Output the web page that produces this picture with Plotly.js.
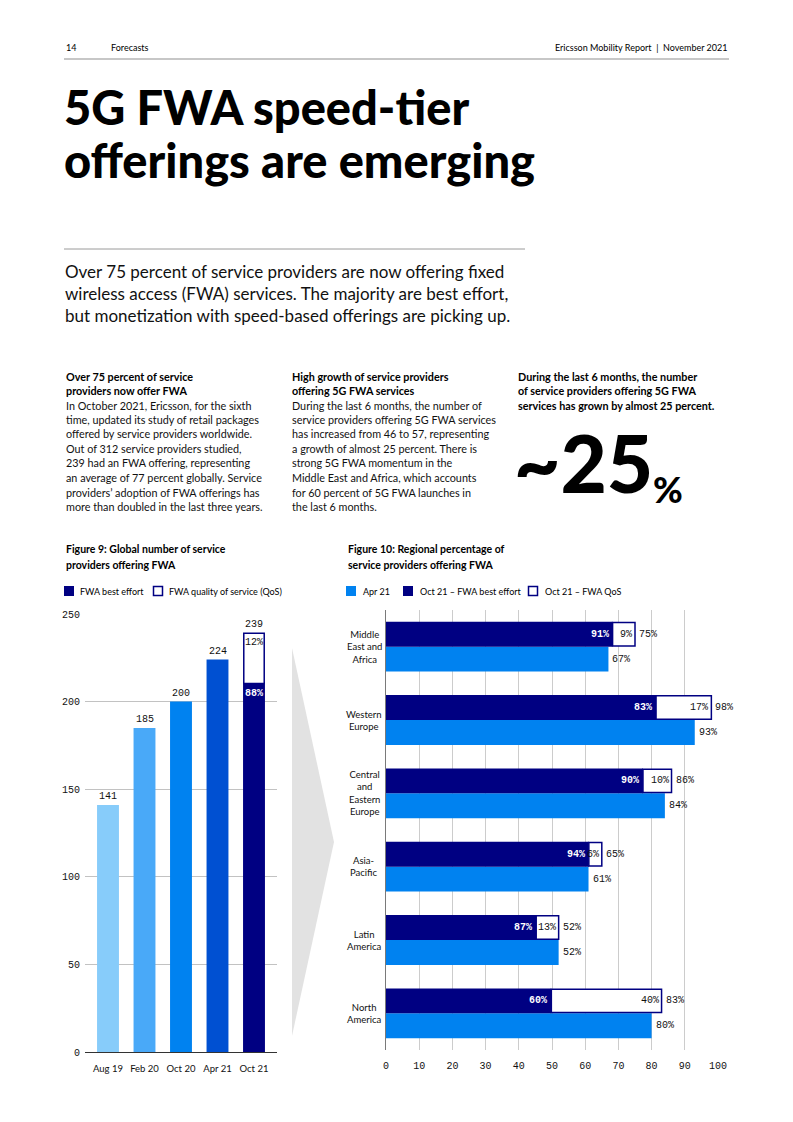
<!DOCTYPE html>
<html>
<head>
<meta charset="utf-8">
<script src="https://cdn.plot.ly/plotly-3.0.1.min.js"></script>
<style>
html,body{margin:0;padding:0;background:#fff;}
#page{width:793px;height:1122px;}
</style>
</head>
<body>
<div id="page"></div>
<script>
// ---------- DATA ----------
const fig9Periods = ['Aug 19','Feb 20','Oct 20','Apr 21','Oct 21'];
const fig9Totals = [141, 185, 200, 224, 239];
const fig9Oct21BestEffortShare = 88;
const fig9Oct21QosShare = 12;
const fig9Ticks = [0, 50, 100, 150, 200, 250];

const fig10Regions = ['Middle East and Africa','Western Europe','Central and Eastern Europe','Asia-Pacific','Latin America','North America'];
const fig10RegionLabels = ['Middle<br>East and<br>Africa','Western<br>Europe','Central<br>and<br>Eastern<br>Europe','Asia-<br>Pacific','Latin<br>America','North<br>America'];
const fig10Apr21 = [67, 93, 84, 61, 52, 80];
const fig10Oct21Total = [75, 98, 86, 65, 52, 83];
const fig10Oct21BestEffortShare = [91, 83, 90, 94, 87, 60];
const fig10Oct21QosShare = [9, 17, 10, 6, 13, 40];
const fig10Ticks = [0,10,20,30,40,50,60,70,80,90,100];

const col1Head = ['Over 75 percent of service','providers now offer FWA'];
const col1Body = ['In October 2021, Ericsson, for the sixth','time, updated its study of retail packages','offered by service providers worldwide.','Out of 312 service providers studied,','239 had an FWA offering, representing','an average of 77 percent globally. Service','providers\u2019 adoption of FWA offerings has','more than doubled in the last three years.'];
const col2Head = ['High growth of service providers','offering 5G FWA services'];
const col2Body = ['During the last 6 months, the number of','service providers offering 5G FWA services','has increased from 46 to 57, representing','a growth of almost 25 percent. There is','strong 5G FWA momentum in the','Middle East and Africa, which accounts','for 60 percent of 5G FWA launches in','the last 6 months.'];
const col3Head = ['During the last 6 months, the number','of service providers offering 5G FWA','services has grown by almost 25 percent.'];
const subtitleLines = ['Over 75 percent of service providers are now offering fixed','wireless access (FWA) services. The majority are best effort,','but monetization with speed-based offerings are picking up.'];
const titleLines = ['5G FWA speed-tier','offerings are emerging'];

// ---------- STYLE ----------
const W = 793, H = 1122;
const X = px => px / W;
const Y = py => 1 - py / H;
const SANS = 'Lato, "Noto Sans", sans-serif';
const MONO = '"Liberation Mono", "DejaVu Sans Mono", monospace';
const NAVY = '#000082';
const BLUE = '#0082f0';
const fig9Colors = ['#87ccfa','#49a9f8','#0082f0','#0050d2', NAVY];

const ann = [];
function txt(text, xpx, ypx, o) {
  o = o || {};
  ann.push({
    text: text, xref: 'paper', yref: 'paper', x: X(xpx), y: Y(ypx),
    xanchor: o.xanchor || 'left', yanchor: o.yanchor || 'middle',
    align: o.align || 'left', showarrow: false,
    font: {family: o.family || SANS, size: o.size || 10, color: o.color || '#000', weight: o.weight || 400}
  });
}

// header
txt('14', 64, 48, {size: 9});
txt('Forecasts', 109, 48, {size: 9});
txt('Ericsson Mobility Report  |  November 2021', 729, 48, {size: 9, xanchor: 'right'});
// title
txt(titleLines[0], 62, 107, {size: 47, weight: 900});
txt(titleLines[1], 62, 160, {size: 47, weight: 900});
// subtitle
subtitleLines.forEach((l, i) => txt(l, 63, 271 + 22 * i, {size: 17, weight: 400, color: '#111'}));
// columns
const cols = [[64, col1Head, col1Body], [290, col2Head, col2Body], [516, col3Head, []]];
cols.forEach(([x0, head, body]) => {
  head.forEach((l, i) => txt(l, x0, 376 + 14.5 * i, {size: 10.8, weight: 700}));
  body.forEach((l, i) => txt(l, x0, 376 + 14.5 * (head.length + i), {size: 10.8, color: '#111'}));
});
txt('~25', 512, 462, {size: 80, weight: 900});
txt('%', 651, 489, {size: 36, weight: 900});

// figure titles
txt('Figure 9: Global number of service', 64, 549, {size: 10.5, weight: 700});
txt('providers offering FWA', 64, 565, {size: 10.5, weight: 700});
txt('Figure 10: Regional percentage of', 346, 549, {size: 10.5, weight: 700});
txt('service providers offering FWA', 346, 565, {size: 10.5, weight: 700});
// legends
txt('FWA best effort', 78, 591, {size: 9});
txt('FWA quality of service (QoS)', 167, 591, {size: 9});
txt('Apr 21', 361, 591, {size: 9});
txt('Oct 21 \u2013 FWA best effort', 418, 591, {size: 9});
txt('Oct 21 \u2013 FWA QoS', 543, 591, {size: 9});

const shapes = [];
function rectPx(x0, y0, x1, y1, fill, line) {
  shapes.push({type: 'rect', xref: 'paper', yref: 'paper', x0: X(x0), x1: X(x1), y0: Y(y1), y1: Y(y0),
    fillcolor: fill, line: {color: line || fill, width: line ? 1.5 : 0}});
}
function linePx(x0, y0, x1, y1, color, width) {
  shapes.push({type: 'line', xref: 'paper', yref: 'paper', x0: X(x0), x1: X(x1), y0: Y(y0), y1: Y(y1),
    line: {color: color, width: width}});
}
linePx(64, 59, 729, 59, '#b5b5b5', 1.5);
linePx(64, 249, 525, 249, '#9a9a9a', 1);
rectPx(64, 586, 74, 596, NAVY);
rectPx(153.5, 586.5, 162.5, 595.5, '#fff', NAVY);
rectPx(346, 586, 356, 596, BLUE);
rectPx(403, 586, 413, 596, NAVY);
rectPx(528.5, 586.5, 537.5, 595.5, '#fff', NAVY);
// arrow
shapes.push({type: 'path', xref: 'paper', yref: 'paper', layer: 'below',
  path: `M ${X(292)},${Y(648)} L ${X(334)},${Y(842)} L ${X(292)},${Y(1036)} Z`,
  fillcolor: '#e2e2e2', line: {width: 0}});

// ---------- FIGURE 9 ----------
const last = fig9Totals.length - 1;
const fig9BestEffort = fig9Totals.map((v, i) => i === last ? v * fig9Oct21BestEffortShare / 100 : v);
const fig9Qos = fig9Totals[last] * fig9Oct21QosShare / 100;

const traces = [];
traces.push({type: 'bar', x: fig9Periods, y: fig9BestEffort, xaxis: 'x', yaxis: 'y', width: 0.6,
  marker: {color: fig9Colors, line: {width: 0}}, hoverinfo: 'skip', showlegend: false});
traces.push({type: 'bar', x: [fig9Periods[last]], y: [fig9Qos], base: [fig9BestEffort[last]], xaxis: 'x', yaxis: 'y', width: 0.56,
  marker: {color: '#fff', line: {color: NAVY, width: 1.5}}, hoverinfo: 'skip', showlegend: false});

fig9Periods.forEach((p, i) => {
  ann.push({text: String(fig9Totals[i]), xref: 'x', yref: 'y', x: p, y: fig9Totals[i], yanchor: 'bottom', yshift: 1,
    showarrow: false, font: {family: MONO, size: 10, color: '#111'}});
});
ann.push({text: fig9Oct21QosShare + '%', xref: 'x', yref: 'y', x: fig9Periods[last], y: fig9Totals[last], yanchor: 'top', yshift: -2,
  showarrow: false, font: {family: MONO, size: 10, color: '#111'}});
ann.push({text: fig9Oct21BestEffortShare + '%', xref: 'x', yref: 'y', x: fig9Periods[last], y: fig9BestEffort[last], yanchor: 'top', yshift: -2,
  showarrow: false, font: {family: MONO, size: 10, color: '#fff', weight: 700}});

// ---------- FIGURE 10 ----------
const fig10Be = fig10Oct21Total.map((t, i) => t * fig10Oct21BestEffortShare[i] / 100);
const fig10Qos = fig10Oct21Total.map((t, i) => t * fig10Oct21QosShare[i] / 100);
traces.push({type: 'bar', orientation: 'h', y: fig10Regions, x: fig10Apr21, xaxis: 'x2', yaxis: 'y2',
  width: 0.34, offset: 0, marker: {color: BLUE, line: {width: 0}}, hoverinfo: 'skip', showlegend: false});
traces.push({type: 'bar', orientation: 'h', y: fig10Regions, x: fig10Be, xaxis: 'x2', yaxis: 'y2',
  width: 0.34, offset: -0.34, marker: {color: NAVY, line: {width: 0}}, hoverinfo: 'skip', showlegend: false});
traces.push({type: 'bar', orientation: 'h', y: fig10Regions, x: fig10Qos, base: fig10Be, xaxis: 'x2', yaxis: 'y2',
  width: 0.32, offset: -0.33, marker: {color: '#fff', line: {color: NAVY, width: 1.5}}, hoverinfo: 'skip', showlegend: false});

fig10Regions.forEach((r, i) => {
  const f = (c, w) => ({family: MONO, size: 10, color: c, weight: w || 400});
  ann.push({text: fig10Oct21BestEffortShare[i] + '%', xref: 'x2', yref: 'y2', x: fig10Be[i], y: i - 0.17,
    xanchor: 'right', xshift: -2, showarrow: false, font: f('#fff', 700)});
  ann.push({text: fig10Oct21QosShare[i] + '%', xref: 'x2', yref: 'y2', x: fig10Oct21Total[i], y: i - 0.17,
    xanchor: 'right', xshift: -1, showarrow: false, font: f('#111')});
  ann.push({text: fig10Oct21Total[i] + '%', xref: 'x2', yref: 'y2', x: fig10Oct21Total[i], y: i - 0.17,
    xanchor: 'left', xshift: 2, showarrow: false, font: f('#111')});
  ann.push({text: fig10Apr21[i] + '%', xref: 'x2', yref: 'y2', x: fig10Apr21[i], y: i + 0.17,
    xanchor: 'left', xshift: 2, showarrow: false, font: f('#111')});
  ann.push({text: fig10RegionLabels[i], xref: 'paper', yref: 'y2', x: X(364), y: i,
    xanchor: 'center', yanchor: 'middle', align: 'center', showarrow: false,
    font: {family: SANS, size: 9.5, color: '#111'}});
});

const layout = {
  width: W, height: H, margin: {l: 0, r: 0, t: 0, b: 0},
  paper_bgcolor: '#fff', plot_bgcolor: 'rgba(0,0,0,0)',
  barmode: 'overlay', showlegend: false,
  xaxis: {domain: [X(85), X(277)], anchor: 'y', type: 'category', range: [-0.63, 4.63],
    showgrid: false, zeroline: false, showline: true, linecolor: '#333', linewidth: 1, ticks: '',
    tickfont: {family: SANS, size: 9.5, color: '#111'}, ticklabelstandoff: 8, fixedrange: true},
  yaxis: {domain: [Y(1052), Y(614)], anchor: 'x', range: [0, 250], tickvals: fig9Ticks,
    showgrid: true, gridcolor: '#c2c2c2', gridwidth: 1, zeroline: false, showline: false, ticks: '',
    tickfont: {family: MONO, size: 10, color: '#111'}, ticklabelstandoff: 4, fixedrange: true},
  xaxis2: {domain: [X(386), X(718)], anchor: 'y2', range: [0, 100], tickvals: fig10Ticks,
    showgrid: true, gridcolor: '#cccccc', gridwidth: 1, zeroline: false, showline: false, ticks: '',
    tickfont: {family: MONO, size: 10, color: '#111'}, ticklabelstandoff: 8, fixedrange: true},
  yaxis2: {domain: [Y(1050), Y(610)], anchor: 'x2', type: 'category', categoryarray: fig10Regions,
    categoryorder: 'array', range: [5.5, -0.5], showticklabels: false, showgrid: false, zeroline: false,
    showline: true, linecolor: '#7a7a7a', linewidth: 1, ticks: '', fixedrange: true},
  annotations: ann, shapes: shapes
};

Plotly.newPlot('page', traces, layout, {staticPlot: true, displayModeBar: false});
</script>
</body>
</html>
